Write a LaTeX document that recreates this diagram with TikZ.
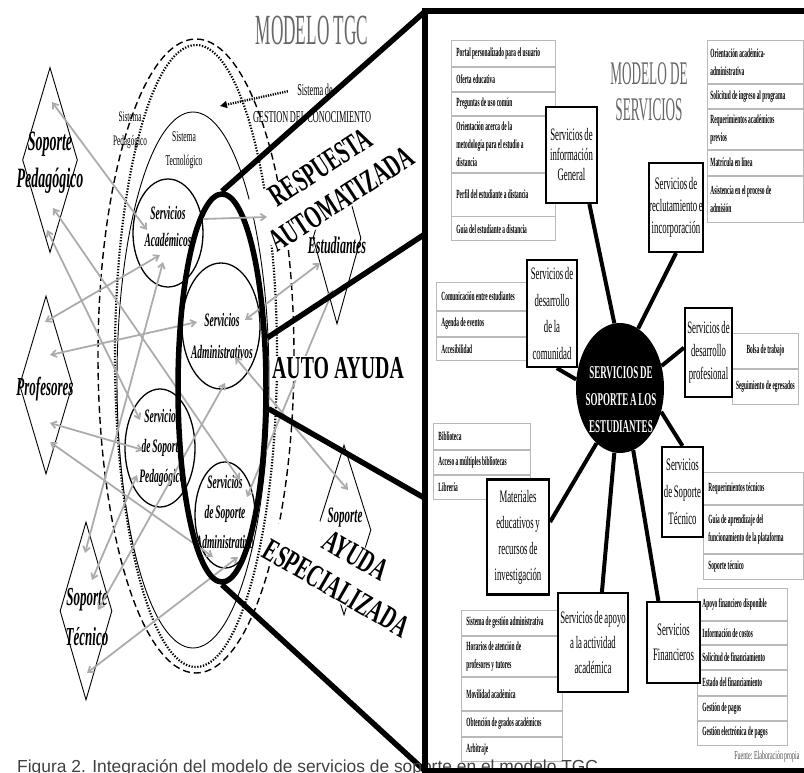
\documentclass[tikz,border=0pt]{standalone}
\usepackage{fontspec}
\setmainfont{Liberation Serif}
\newfontfamily\cnd[FakeStretch=0.5, WordSpace=0.75]{Liberation Serif}
\newfontfamily\cndi[FakeStretch=0.43]{Liberation Serif}
\newfontfamily\cndw[FakeStretch=0.62]{Liberation Serif}
\newfontfamily\cndt[FakeStretch=0.4]{Liberation Serif}
\newfontfamily\capfont{Liberation Sans}
\usetikzlibrary{shapes.geometric, arrows.meta, positioning, calc}
\newcommand{\fsz}[2]{\fontsize{#1}{#2}\selectfont}

\begin{document}
\begin{tikzpicture}[
    x=1pt, y=-1pt,
    dmd/.style={diamond, draw, line width=0.9pt, inner sep=0pt},
    dtext/.style 2 args={font=\cnd\bfseries\itshape\fsz{#1}{#2}, align=center},
    oval/.style={ellipse, draw, line width=1.3pt, inner sep=0pt},
    otext/.style={font=\cnd\bfseries\itshape\fsz{19}{#1}, align=center},
    garrow/.style={draw=gray!65, line width=1.8pt, {Straight Barb[length=5pt,width=7pt]}-{Straight Barb[length=5pt,width=7pt]}},
    gto/.style={draw=gray!65, line width=1.8pt, -{Straight Barb[length=5pt,width=7pt]}},
    lensline/.style={line width=5.5pt},
    bigtag/.style={font=\cndw\bfseries\fsz{32}{38}, align=center, fill=white, inner sep=1pt},
    svc/.style={draw, line width=2.2pt, fill=white, align=flush center, inner sep=0pt, font=\cnd\fsz{17.5}{#1}},
    itembox/.style={draw=gray!55, line width=0.9pt, fill=white, align=flush left, inner xsep=5pt, inner ysep=0pt, font=\cndi\bfseries\fsz{12.5}{18}},
    spoke/.style={line width=4pt},
    hub/.style={ellipse, fill=black, inner sep=0pt},
    panelline/.style={line width=6pt}
]
    \useasboundingbox (0,0) rectangle (804,773);
    \clip (0,0) rectangle (804,773);

    % Right panel area
    \node[fill=white, minimum width=440, minimum height=759, inner sep=0pt, anchor=north west] (panel) at (425,11.5) {};

    % Systems of the TGC model
    \node[ellipse, draw, line width=1.4pt, dash pattern=on 7pt off 4pt, minimum width=196, minimum height=634, inner sep=0pt] (gcm) at (196,356) {};
    \node[ellipse, draw, line width=2.2pt, dash pattern=on 1.3pt off 1.6pt, minimum width=162, minimum height=622, inner sep=0pt] (ped) at (196,356) {};
    \node[ellipse, draw, line width=0.9pt, minimum width=152, minimum height=536, inner sep=0pt] (tec) at (193,380) {};
    \node[font=\cnd\fsz{14.5}{24}, align=center] (pedlbl) at (130,130) {Sistema\\Pedagógico};
    \node[font=\cnd\fsz{15}{24}, align=center] (teclbl) at (184,150) {Sistema\\Tecnológico};
    \node[font=\cndt\fsz{43}{43}, text=black!60] (tgc) at (312,30) {MODELO TGC};
    \node[font=\cnd\fsz{16.5}{20}] (gca) at (315,90) {Sistema de};
    \node[font=\cnd\fsz{16.5}{20}] (gcb) at (312,117) {GESTION DEL CONOCIMIENTO};
    \coordinate (gctip) at (220,106);
    \draw[line width=2.4pt, dash pattern=on 1.2pt off 1.2pt, -{Triangle[length=7pt,width=7pt]}, shorten <=6pt] (gca.west) -- (gctip);

    % Actors
    \node[dmd, minimum width=55, minimum height=185] (sped) at (50,160) {};
    \node[dmd, minimum width=53, minimum height=178] (prof) at (46,385) {};
    \node[dmd, minimum width=52, minimum height=178] (stec) at (86,611) {};
    \node[dmd, minimum width=48, minimum height=172] (estu) at (337,238) {};
    \node[dmd, minimum width=54, minimum height=170] (sadm) at (344,530) {};
    \node[dtext={28}{37}] (spedtxt) at (50,163) {Soporte\\Pedagógico};
    \node[dtext={26}{26}] (proftxt) at (45,389) {Profesores};
    \node[dtext={26}{40}] (stectxt) at (87,617) {Soporte\\Técnico};
    \node[dtext={24}{24}] (estutxt) at (337,245) {Estudiantes};
    \node[dtext={22}{22}] (sadmtxt) at (345,518) {Soporte};

    % Services of the TGC model
    \node[oval, minimum width=70, minimum height=108] (acad) at (168,233) {};
    \node[oval, minimum width=78, minimum height=126] (adm) at (221,326) {};
    \node[oval, minimum width=70, minimum height=118] (ssped) at (160,448) {};
    \node[oval, minimum width=60, minimum height=106] (ssadm) at (225,515) {};
    \node[otext=27] (acadtxt) at (168,227) {Servicios\\Académicos};
    \node[otext=32] (admtxt) at (222,336) {Servicios\\Administrativos};
    \node[otext=30] (sspedtxt) at (162,448) {Servicios\\de Soporte\\Pedagógico};
    \node[otext=30] (ssadmtxt) at (225,512) {Servicios\\de Soporte\\Administrativo};

    % Relations
    \draw[garrow] ($(sped)+(2,-58)$) -- ($(acad)+(-21,-3)$);
    \draw[garrow] ($(sped)+(-3,70)$) -- ($(ssped)+(-20,-28)$);
    \draw[garrow] ($(sped)+(3,48)$) -- ($(ssadm)+(15,-35)$);
    \draw[garrow] ($(prof)+(-1,-63)$) -- ($(acad)+(-8,22)$);
    \draw[garrow] ($(prof)+(4,-30)$) -- ($(adm)+(-24,-4)$);
    \draw[garrow] ($(prof)+(4,38)$) -- ($(ssped)+(-17,2)$);
    \draw[garrow] ($(prof)+(4,57)$) -- ($(ssadm)+(-12,42)$);
    \draw[garrow] ($(stec)+(-1,-58)$) -- ($(acad)+(-5,29)$);
    \draw[garrow] ($(stec)+(6,-31)$) -- ($(ssped)+(-23,27)$);
    \draw[garrow] ($(stec)+(12,-1)$) -- ($(adm)+(4,57)$);
    \draw[garrow] ($(stec)+(1,62)$) -- ($(ssadm)+(13,42)$);
    \draw[garrow] ($(estu)+(-17,25)$) -- ($(adm)+(24,-6)$);
    \draw[garrow] ($(estu)+(-4,52)$) -- ($(ssadm)+(22,-18)$);
    \draw[garrow] ($(adm)+(14,31)$) -- ($(sadm)+(4,-40)$);

    % Lens
    \node[ellipse, draw, line width=5.5pt, minimum width=88, minimum height=388, inner sep=0pt] (lens) at (222,388) {};
    \node[bigtag, rotate=33] (autoresp) at (331,183) {RESPUESTA\\AUTOMATIZADA};
    \node[bigtag] (selfhelp) at (338,368) {AUTO AYUDA};
    \node[bigtag, rotate=-30] (special) at (346,572) {AYUDA\\ESPECIALIZADA};
    \coordinate (e1tip) at (267,217);
    \draw[gto] ($(acad)+(35,-14)$) -- (e1tip);

    \draw[lensline] (lens.north) -- (panel.north west);
    \draw[lensline] (lens.48) -- ($(panel.north west)!0.293!(panel.south west)$);
    \draw[lensline] (lens.-24) -- ($(panel.north west)!0.641!(panel.south west)$);
    \draw[lensline] (lens.south) -- (panel.south west);

    % Services model
    \node[font=\cndt\fsz{33}{36}, text=black!60, align=center] (mtitle) at (649,92) {MODELO DE\\SERVICIOS};

    \node[itembox, text width=94, minimum height=26, anchor=north west] (inf1) at (451,40) {Portal personalizado para el usuario};
    \node[itembox, text width=94, minimum height=24, below=0pt of inf1] (inf2) {Oferta educativa};
    \node[itembox, text width=94, minimum height=23, below=0pt of inf2] (inf3) {Preguntas de uso común};
    \node[itembox, text width=94, minimum height=56, below=0pt of inf3] (inf4) {Orientación acerca de la\\metodología para el estudio a\\distancia};
    \node[itembox, text width=94, minimum height=43, below=0pt of inf4] (inf5) {Perfil del estudiante a distancia};
    \node[itembox, text width=94, minimum height=24, below=0pt of inf5] (inf6) {Guía del estudiante a distancia};

    \node[itembox, text width=90, inner xsep=3pt, minimum height=43, anchor=north west] (rec1) at (707,40) {Orientación académica-\\administrativa};
    \node[itembox, text width=90, inner xsep=3pt, minimum height=24, below=0pt of rec1] (rec2) {Solicitud de ingreso al programa};
    \node[itembox, text width=90, inner xsep=3pt, minimum height=40, below=0pt of rec2] (rec3) {Requerimientos académicos\\previos};
    \node[itembox, text width=90, inner xsep=3pt, minimum height=25, below=0pt of rec3] (rec4) {Matrícula en línea};
    \node[itembox, text width=90, inner xsep=3pt, minimum height=46, below=0pt of rec4] (rec5) {Asistencia en el proceso de\\admisión};

    \node[itembox, text width=65, inner xsep=0.5pt, align=flush center, minimum height=35, anchor=north west] (bol1) at (732,333) {Bolsa de trabajo};
    \node[itembox, text width=65, inner xsep=0.5pt, align=flush center, minimum height=35, below=0pt of bol1] (bol2) {Seguimiento de egresados};

    \node[itembox, text width=84, minimum height=28, anchor=north west] (com1) at (436,282) {Comunicación entre estudiantes};
    \node[itembox, text width=84, minimum height=25, below=0pt of com1] (com2) {Agenda de eventos};
    \node[itembox, text width=84, minimum height=23, below=0pt of com2] (com3) {Accesibilidad};

    \node[itembox, text width=90, minimum height=32, anchor=north west] (tec1) at (703,472) {Requerimientos técnicos};
    \node[itembox, text width=90, minimum height=48, below=0pt of tec1] (tec2) {Guía de aprendizaje del\\funcionamiento de la plataforma};
    \node[itembox, text width=90, minimum height=25, below=0pt of tec2] (tec3) {Soporte técnico};

    \node[itembox, text width=87, minimum height=26, anchor=north west] (bib1) at (433,423) {Biblioteca};
    \node[itembox, text width=87, minimum height=24, below=0pt of bib1] (bib2) {Acceso a múltiples bibliotecas};
    \node[itembox, text width=87, minimum height=24, below=0pt of bib2] (bib3) {Librería};

    \node[itembox, text width=91, minimum height=25, anchor=north west] (apo1) at (461,610) {Sistema de gestión administrativa};
    \node[itembox, text width=91, minimum height=40, below=0pt of apo1] (apo2) {Horarios de atención de\\profesores y tutores};
    \node[itembox, text width=91, minimum height=33, below=0pt of apo2] (apo3) {Movilidad académica};
    \node[itembox, text width=91, minimum height=25, below=0pt of apo3] (apo4) {Obtención de grados académicos};
    \node[itembox, text width=91, minimum height=24, below=0pt of apo4] (apo5) {Arbitraje};

    \node[itembox, text width=80, minimum height=32, anchor=north west] (fin1) at (697,588) {Apoyo financiero disponible};
    \node[itembox, text width=80, minimum height=23, below=0pt of fin1] (fin2) {Información de costos};
    \node[itembox, text width=80, minimum height=24, below=0pt of fin2] (fin3) {Solicitud de financiamiento};
    \node[itembox, text width=80, minimum height=25, below=0pt of fin3] (fin4) {Estado del financiamiento};
    \node[itembox, text width=80, minimum height=24, below=0pt of fin4] (fin5) {Gestión de pagos};
    \node[itembox, text width=80, minimum height=24, below=0pt of fin5] (fin6) {Gestión electrónica de pagos};

    % Service groups
    \node[svc=20, minimum width=51, minimum height=96] (info) at (571.5,155) {Servicios de\\información\\General};
    \node[svc=22, minimum width=54, minimum height=89] (rec) at (676,207.5) {Servicios de\\reclutamiento e\\incorporación};
    \node[svc=23, minimum width=47, minimum height=89] (dprof) at (708.5,352.5) {Servicios de\\desarrollo\\profesional};
    \node[svc=26.7, minimum width=50, minimum height=107] (comm) at (552,313.5) {Servicios de\\desarrollo\\de la\\comunidad};
    \node[svc=27, minimum width=41, minimum height=90] (stbox) at (682.5,492) {Servicios\\de Soporte\\Técnico};
    \node[svc=26, minimum width=62, minimum height=115] (mat) at (518,537) {Materiales\\educativos y\\recursos de\\investigación};
    \node[svc=25, minimum width=70, minimum height=99] (apoyo) at (593,642.5) {Servicios de apoyo\\a la actividad\\académica};
    \node[svc=25, minimum width=53, minimum height=81] (fin) at (673.5,642.5) {Servicios\\Financieros};

    % Hub
    \node[hub, minimum width=88, minimum height=130] (hub) at (620,388) {};
    \draw[spoke] (info.-70) -- (hub.95);
    \draw[spoke] (rec.south) -- (hub.73);
    \draw[spoke] (dprof.169) -- (hub.28);
    \draw[spoke] (comm.-85) -- (hub.169);
    \draw[spoke] (stbox.north) -- (hub.-30);
    \draw[spoke] (mat.25) -- (hub.-113);
    \draw[spoke] (apoyo.80) -- (hub.-95);
    \draw[spoke] (fin.110) -- (hub.-78);
    \node[font=\cnd\bfseries\fsz{18}{27}, text=white, align=center] (hubtxt) at (621,400) {SERVICIOS DE\\SOPORTE A LOS\\ESTUDIANTES};

    \node[font=\cnd\fsz{12}{12}, text=black!70, anchor=east] (src) at (803,757) {Fuente: Elaboración propia};

    % Caption
    \node[font=\capfont\fsz{17.4}{17.4}, text=black!75, anchor=base west, inner sep=0pt] (caption) at (17,772) {Figura 2. Integración del modelo de servicios de soporte en el modelo TGC};

    \draw[panelline] (panel.north east) -- (panel.north west) -- (panel.south west) -- (panel.south east);
\end{tikzpicture}
\end{document}
